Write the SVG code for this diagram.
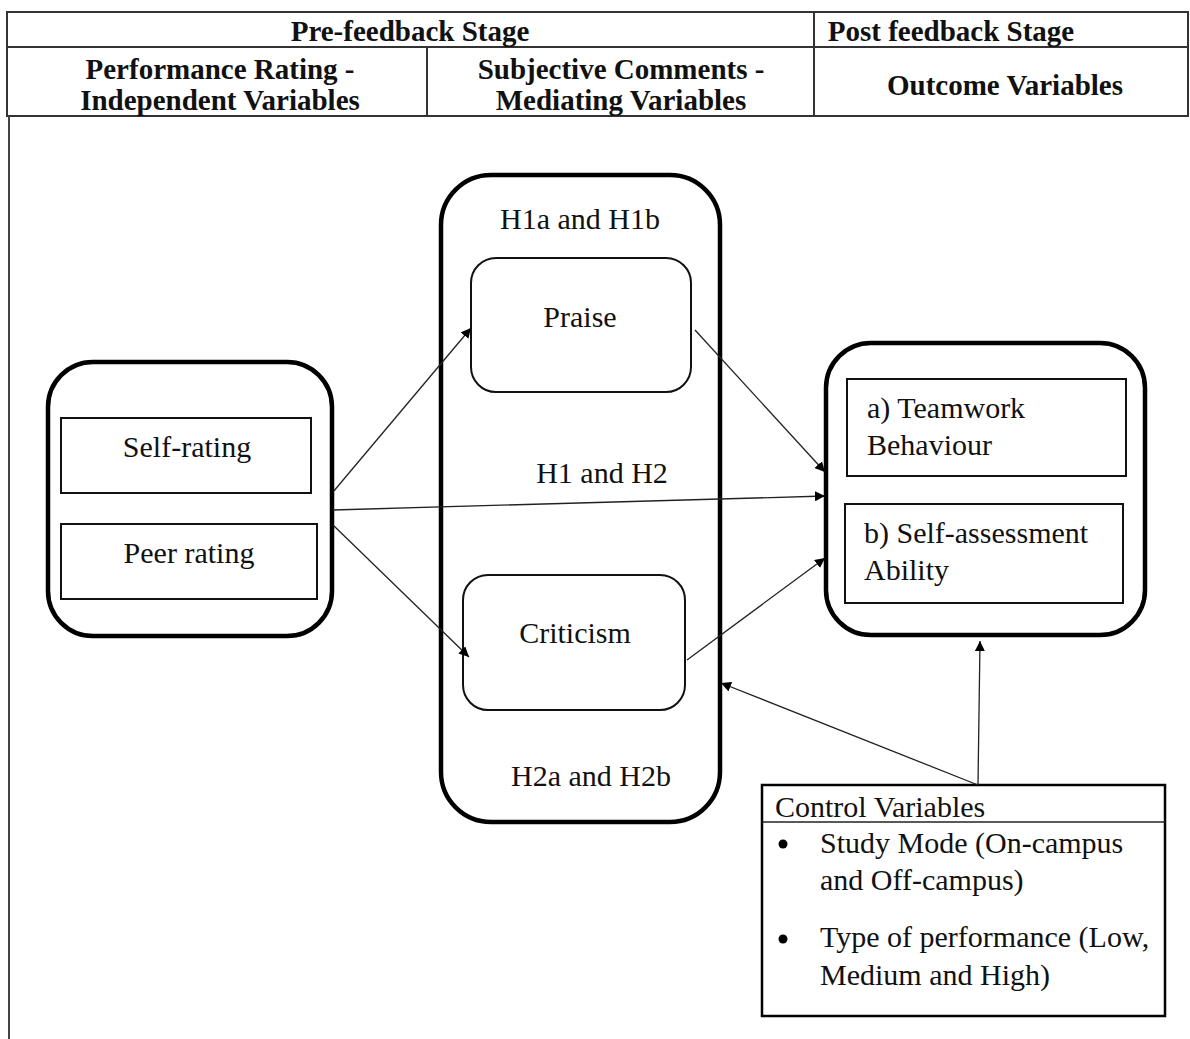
<svg xmlns="http://www.w3.org/2000/svg" width="1190" height="1039" viewBox="0 0 1190 1039">
<style>
text{font-family:"Liberation Serif","Times New Roman",serif;fill:#111;font-size:30px}
.h{font-weight:bold;text-anchor:middle;font-size:29px}
.c{text-anchor:middle}
.thick{fill:#fff;stroke:#000;stroke-width:4.5}
.thin{fill:#fff;stroke:#111;stroke-width:2}
.tbl{fill:none;stroke:#333;stroke-width:2}
.conn{stroke:#222;stroke-width:1.3;fill:none;marker-end:url(#ah)}
</style>
<defs>
<marker id="ah" viewBox="0 0 10 10" refX="10" refY="5" markerWidth="10" markerHeight="10" markerUnits="userSpaceOnUse" orient="auto">
<path d="M0,0 L10,5 L0,10 z" fill="#000"/>
</marker>
</defs>
<rect width="1190" height="1039" fill="#fff"/>
<g id="table">
<rect class="tbl" x="7" y="12" width="1181" height="104"/>
<line class="tbl" x1="7" y1="47" x2="1188" y2="47"/>
<line class="tbl" x1="814" y1="12" x2="814" y2="116"/>
<line class="tbl" x1="427" y1="47" x2="427" y2="116"/>
<line x1="9" y1="116" x2="9" y2="1039" stroke="#444" stroke-width="2"/>
<text class="h" x="410" y="41">Pre-feedback Stage</text>
<text class="h" x="951" y="41">Post feedback Stage</text>
<text class="h" x="220" y="79">Performance Rating -</text>
<text class="h" x="220" y="110">Independent Variables</text>
<text class="h" x="621" y="79">Subjective Comments -</text>
<text class="h" x="621" y="110">Mediating Variables</text>
<text class="h" x="1005" y="95">Outcome Variables</text>
</g>
<g id="independent">
<rect class="thick" x="48" y="362" width="284" height="274" rx="45"/>
<rect class="thin" x="61" y="418" width="250" height="75"/>
<text class="c" x="187" y="457">Self-rating</text>
<rect class="thin" x="61" y="524" width="256" height="75"/>
<text class="c" x="189" y="563">Peer rating</text>
</g>
<g id="mediating">
<rect class="thick" x="441" y="175" width="279" height="647" rx="50"/>
<text class="c" x="580" y="229">H1a and H1b</text>
<text class="c" x="591" y="786">H2a and H2b</text>
</g>
<g id="praise">
<rect class="thin" x="471" y="258" width="220" height="134" rx="25"/>
<text class="c" x="580" y="327">Praise</text>
</g>
<g id="criticism">
<rect class="thin" x="463" y="575" width="222" height="135" rx="25"/>
<text class="c" x="575" y="643">Criticism</text>
</g>
<g id="outcome">
<rect class="thick" x="826" y="343" width="319" height="292" rx="45"/>
<rect class="thin" x="847" y="379" width="279" height="97"/>
<text x="867" y="418">a) Teamwork</text>
<text x="867" y="455">Behaviour</text>
<rect class="thin" x="845" y="504" width="278" height="99"/>
<text x="864" y="543">b) Self-assessment</text>
<text x="864" y="580">Ability</text>
</g>
<g id="control">
<rect x="762" y="785" width="403" height="231" fill="#fff" stroke="#000" stroke-width="2.5"/>
<line x1="762" y1="822" x2="1165" y2="822" stroke="#222" stroke-width="1.5"/>
<text x="775" y="817">Control Variables</text>
<circle cx="783" cy="844" r="4.5" fill="#000"/>
<text x="820" y="853">Study Mode (On-campus</text>
<text x="820" y="890">and Off-campus)</text>
<circle cx="783" cy="939" r="4.5" fill="#000"/>
<text x="820" y="947">Type of performance (Low,</text>
<text x="820" y="985">Medium and High)</text>
</g>
<g id="connectors">
<line class="conn" x1="333" y1="492" x2="471" y2="328"/>
<line class="conn" x1="333" y1="510" x2="825" y2="496"/>
<line class="conn" x1="333" y1="525" x2="469" y2="657"/>
<line class="conn" x1="695" y1="330" x2="825" y2="472"/>
<line class="conn" x1="687" y1="660" x2="825" y2="558"/>
<line class="conn" x1="978" y1="785" x2="721" y2="683"/>
<line class="conn" x1="978" y1="785" x2="980" y2="641"/>
<text class="c" x="602" y="483">H1 and H2</text>
</g>
</svg>
